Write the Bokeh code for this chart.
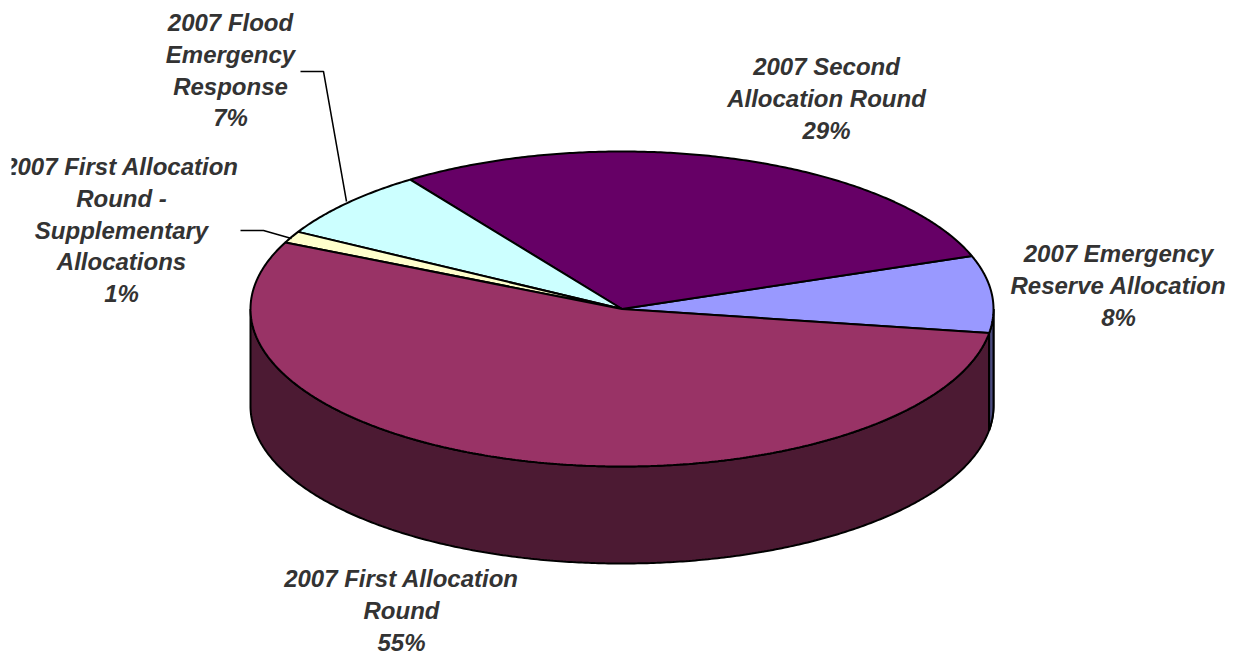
import numpy as np
from bokeh.plotting import figure
from bokeh.models import Range1d
from bokeh.core.properties import value
from bokeh.embed import file_html
from bokeh.resources import INLINE

# Data: share of allocations, counter-clockwise from the start angle
categories = ["2007 Emergency Reserve Allocation", "2007 Second Allocation Round",
              "2007 Flood Emergency Response",
              "2007 First Allocation Round - Supplementary Allocations",
              "2007 First Allocation Round"]
shares = [7.9, 29.2, 7.2, 1.2, 54.5]
top_colors = ["#9999FF", "#660066", "#CCFFFF", "#FFFFCC", "#993366"]
side_colors = ["#4C4C80", "#330033", "#668080", "#808066", "#4C1A33"]
label_lines = [["2007 Emergency", "Reserve Allocation", "8%"],
               ["2007 Second", "Allocation Round", "29%"],
               ["2007 Flood", "Emergency", "Response", "7%"],
               ["2007 First Allocation", "Round -", "Supplementary", "Allocations", "1%"],
               ["2007 First Allocation", "Round", "55%"]]
label_x = [1118, 826, 230, 121, 401]
label_y = [253, 66, 22, 166, 578]
leader_x = [[300, 323, 346], [240, 263, 291]]
leader_y = [[71, 71, 201], [230, 230, 238]]

# Layout (page pixels)
W, H = 1236, 655
LEFT = 11
CX, CY, RX, RY, DEPTH = 621.5, 308.5, 371.5, 157.5, 97
START = -8.8
LINE_H = 31.8

p = figure(width=W, height=H, output_backend="svg", toolbar_location=None,
           x_range=Range1d(LEFT, W), y_range=Range1d(H, 0),
           min_border_left=LEFT, min_border_right=0, min_border_top=0, min_border_bottom=0,
           outline_line_color=None, background_fill_color="white", border_fill_color="white")
p.axis.visible = False
p.grid.visible = False


def arc(a0, a1, dy=0.0):
    t = np.radians(np.linspace(a0, a1, max(int(abs(a1 - a0) * 2), 2)))
    return CX + RX * np.cos(t), CY - RY * np.sin(t) + dy


ends = START + np.cumsum(shares) * 360 / sum(shares)
starts = np.concatenate([[START], ends[:-1]])

# sides: only the visible front half (180..360 degrees, wrapped)
for a0, a1, col in zip(starts, ends, side_colors):
    for shift in (0, 360, -360):
        lo, hi = max(a0 + shift, 180), min(a1 + shift, 360)
        if hi > lo:
            x0, y0 = arc(lo, hi)
            x1, y1 = arc(lo, hi, DEPTH)
            p.patch(np.r_[x0, x1[::-1]], np.r_[y0, y1[::-1]], fill_color=col,
                    line_color="black", line_width=2)

# the reserve slice's side appears past the right edge of the first-round slice
xs, ys = arc(START, 0)
xb, yb = arc(START, 0, DEPTH)
p.patch(np.r_[xs, xb[::-1]], np.r_[ys, yb[::-1]], fill_color=side_colors[0],
        line_color="black", line_width=2)

# top faces
for a0, a1, col in zip(starts, ends, top_colors):
    x, y = arc(a0, a1)
    p.patch(np.r_[CX, x], np.r_[CY, y], fill_color=col, line_color="black", line_width=2)

# leaders
for lx, ly in zip(leader_x, leader_y):
    p.line(lx, ly, line_color="black", line_width=1.5)

# labels
for lines, x, y in zip(label_lines, label_x, label_y):
    p.text([x] * len(lines), [y + i * LINE_H for i in range(len(lines))], text=lines,
           text_font=value("Liberation Sans"), text_font_size="24px",
           text_font_style="bold italic", text_color="#333333",
           text_align="center", text_baseline="middle")

open("out.html", "w").write(file_html(p, INLINE))
